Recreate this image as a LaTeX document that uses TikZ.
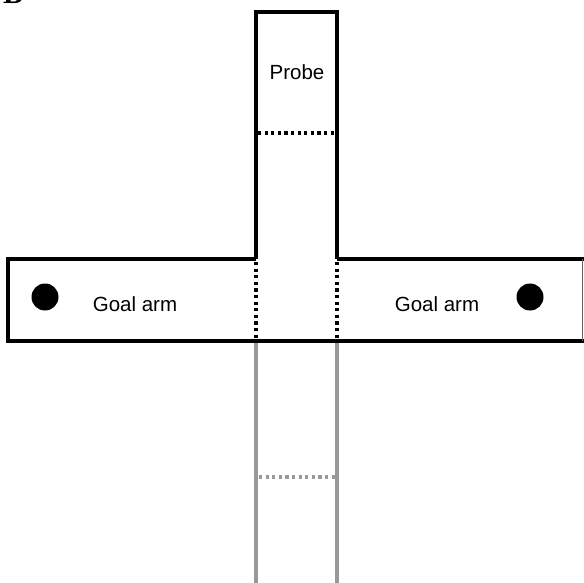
\documentclass[tikz,border=0pt]{standalone}
\usepackage{fontspec}
\setmainfont{Liberation Sans}
\newfontfamily\serifb{Liberation Serif}
\usepackage{tikz}
\tikzset{
	wall/.style={draw=black,line width=3.2pt},
	old wall/.style={draw=black!40,line width=3.2pt},
	door/.style={draw=black,line width=3.2pt,dash pattern=on 3.2pt off 3.4pt},
	old door/.style={draw=black!40,line width=3.2pt,dash pattern=on 3.2pt off 3.4pt},
	arm text/.style={font=\fontsize{20.5}{24}\selectfont,inner sep=0pt},
	goal/.style={circle,fill=black,minimum size=27pt,inner sep=0pt}
}

\begin{document}
\begin{tikzpicture}[x=1pt,y=-1pt]
	    \useasboundingbox (0,0) rectangle (584,583);
	    \clip (0,0) rectangle (584,583);
	    % panel letter, cut at the top
	    \node [anchor=base west,inner sep=0pt,font=\serifb\bfseries\fontsize{30}{30}\selectfont] (B) at (3,4) {B};
	    % probe arm
	    \draw [wall] (256,259) -- (256,12) -- (337,12) -- (337,259);
	    \draw [door] (258,133) -- (337,133);
	    \node [arm text] (probe) at (297,72) {Probe};
	    % goal arms
	    \draw [wall] (256,259) -- (8,259) -- (8,341) -- (365,341);
	    \draw [wall] (337,259) -- (584,259);
	    \draw [wall] (337,341) -- (584,341);
	    \draw [black!60,line width=1pt] (582,259) -- (582,341);
	    \draw [door] (256,262) -- (256,340);
	    \draw [door] (337,262) -- (337,340);
	    \node [goal] (g1) at (45,297) {};
	    \node [goal] (g2) at (530,297) {};
	    \node [arm text] (left arm) at (135,304) {Goal arm};
	    \node [arm text] (right arm) at (437,304) {Goal arm};
	    % start arm (grey)
	    \draw [old wall] (256,343) -- (256,583);
	    \draw [old wall] (337,343) -- (337,583);
	    \draw [old door] (259,477) -- (337,477);
\end{tikzpicture}
\end{document}
